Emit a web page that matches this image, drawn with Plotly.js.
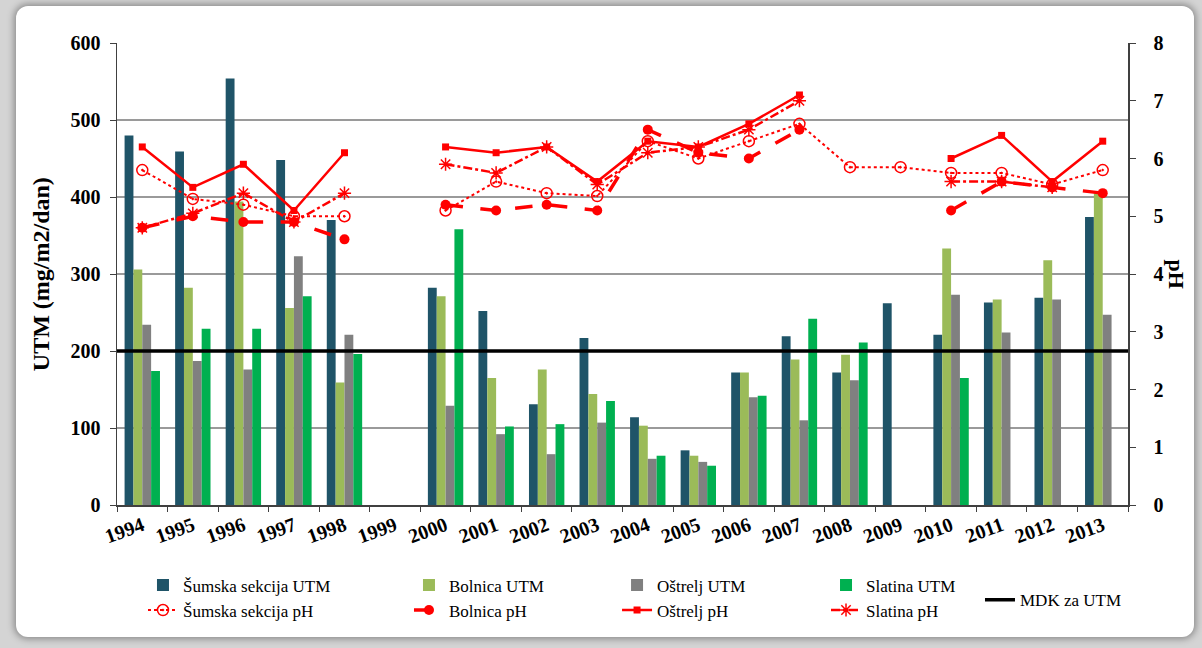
<!DOCTYPE html>
<html>
<head>
<meta charset="utf-8">
<script src="https://cdn.plot.ly/plotly-3.0.1.min.js"></script>
<style>
html,body{margin:0;padding:0;width:1202px;height:648px;overflow:hidden;background:#d4d4d4;}
#panel{position:absolute;left:16px;top:6px;width:1178px;height:631px;background:#fff;border-radius:12px;box-shadow:0 0 7px 2px rgba(0,0,0,0.35);}
#chart{position:absolute;left:0;top:0;width:1202px;height:648px;}
</style>
</head>
<body>
<div id="panel"></div>
<div id="chart"></div>
<script>
const years = ['1994','1995','1996','1997','1998','1999','2000','2001','2002','2003','2004','2005','2006','2007','2008','2009','2010','2011','2012','2013'];

const sumskaUTM  = [480,459,554,448,370,null,282,252,131,217,114,71,172,219,172,262,221,263,269,374];
const bolnicaUTM = [306,282,394,256,159,null,271,165,176,144,103,64,172,189,195,null,333,267,318,405];
const ostreljUTM = [234,187,176,323,221,null,129,92,66,107,60,56,140,110,162,null,273,224,267,247];
const slatinaUTM = [174,229,229,271,196,null,358,102,105,135,64,51,142,242,211,null,165,null,null,null];

const sumskaPH  = [5.8,5.3,5.2,5.0,5.0,null,5.1,5.6,5.4,5.35,6.3,6.0,6.3,6.6,5.85,5.85,5.75,5.75,5.55,5.8];
const bolnicaPH = [4.8,5.0,4.9,4.9,4.6,null,5.2,5.1,5.2,5.1,6.5,6.1,6.0,6.5,null,null,5.1,5.6,5.5,5.4];
const ostreljPH = [6.2,5.5,5.9,5.1,6.1,null,6.2,6.1,6.2,5.6,6.3,6.2,6.6,7.1,null,null,6.0,6.4,5.6,6.3];
const slatinaPH = [4.8,5.05,5.4,4.9,5.4,null,5.9,5.75,6.2,5.55,6.1,6.2,6.5,7.0,null,null,5.6,5.6,5.5,null];

const mdkUTM = 200;

const yTicksLeft = [0,100,200,300,400,500,600];
const yTicksRight = [0,1,2,3,4,5,6,7,8];

const names = {
  sUTM:'Šumska sekcija UTM', bUTM:'Bolnica UTM', oUTM:'Oštrelj UTM', slUTM:'Slatina UTM',
  sPH:'Šumska sekcija pH', bPH:'Bolnica pH', oPH:'Oštrelj pH', slPH:'Slatina pH',
  mdk:'MDK za UTM', yLeft:'UTM (mg/m2/dan)', yRight:'pH'
};

const RED = '#ff0000';
const serif = 'Liberation Serif, Times New Roman, serif';

const bar = (y, name, color, legend) => ({
  type:'bar', x:years, y:y, name:name, marker:{color:color}, legend:legend, hoverinfo:'x+y+name'
});

const traces = [
  bar(sumskaUTM, names.sUTM, '#1f5468', 'legend'),
  bar(bolnicaUTM, names.bUTM, '#9bbb59', 'legend2'),
  bar(ostreljUTM, names.oUTM, '#808080', 'legend3'),
  bar(slatinaUTM, names.slUTM, '#00b050', 'legend4'),
  {type:'scatter', mode:'lines+markers', x:years, y:sumskaPH, yaxis:'y2', name:names.sPH, legend:'legend',
   line:{color:RED, width:2, dash:'dot'}, marker:{symbol:'circle-open-dot', size:11, color:RED, line:{width:1.5, color:RED}}},
  {type:'scatter', mode:'lines+markers', x:years, y:bolnicaPH, yaxis:'y2', name:names.bPH, legend:'legend2',
   line:{color:RED, width:3.5, dash:'longdash'}, marker:{symbol:'circle', size:10, color:RED}},
  {type:'scatter', mode:'lines+markers', x:years, y:ostreljPH, yaxis:'y2', name:names.oPH, legend:'legend3',
   line:{color:RED, width:2.5}, marker:{symbol:'square', size:7, color:RED}},
  {type:'scatter', mode:'lines+markers', x:years, y:slatinaPH, yaxis:'y2', name:names.slPH, legend:'legend4',
   line:{color:RED, width:2.5, dash:'dashdot'}, marker:{symbol:'asterisk-open', size:11, color:RED, line:{width:1.5, color:RED}}}
];

const legendBase = (x) => ({
  x:x, y:-0.135, xanchor:'left', yanchor:'top', orientation:'v',
  bgcolor:'rgba(0,0,0,0)', font:{family:serif, size:17, color:'#000'},
  itemwidth:30, traceorder:'normal', tracegroupgap:0
});

const layout = {
  width:1202, height:648,
  margin:{l:117, r:74, t:43, b:143},
  paper_bgcolor:'rgba(0,0,0,0)', plot_bgcolor:'rgba(0,0,0,0)',
  barmode:'group', bargap:0.3, bargroupgap:0,
  font:{family:serif, color:'#000'},
  xaxis:{type:'category', range:[-0.5,19.5], autorange:false, showline:true, linecolor:'#404040', linewidth:1.5,
    ticks:'outside', ticklen:5, tickcolor:'#404040', tickson:'boundaries',
    tickangle:-20, tickfont:{family:serif, size:20, weight:'bold', color:'#000'}, showgrid:false},
  yaxis:{range:[0,600], tickvals:yTicksLeft, showline:true, linecolor:'#404040', linewidth:1.5,
    ticks:'outside', ticklen:6, tickcolor:'#404040', ticklabelstandoff:5,
    tickfont:{family:serif, size:20, weight:'bold', color:'#000'},
    showgrid:true, gridcolor:'#9a9a9a', gridwidth:1.2, zeroline:false},
  yaxis2:{range:[0,8], tickvals:yTicksRight, overlaying:'y', side:'right', showline:true,
    linecolor:'#404040', linewidth:1.5, ticks:'outside', ticklen:6, tickcolor:'#404040', ticklabelstandoff:14,
    tickfont:{family:serif, size:20, weight:'bold', color:'#000'}, showgrid:false, zeroline:false},
  shapes:[{type:'line', xref:'paper', x0:0, x1:1, yref:'y', y0:mdkUTM, y1:mdkUTM,
    line:{color:'#000', width:3.5}, layer:'above', showlegend:true, legend:'legend5', name:names.mdk}],
  legend: legendBase(0.0257),
  legend2: legendBase(0.2888),
  legend3: legendBase(0.4946),
  legend4: legendBase(0.7013),
  legend5: Object.assign(legendBase(0.8536), {y:-0.206, yanchor:'middle'}),
  annotations:[
    {text:names.yLeft, xref:'paper', yref:'paper', x:-0.075, y:0.5, textangle:-90, showarrow:false,
     xanchor:'center', yanchor:'middle', font:{family:serif, size:24, weight:'bold', color:'#000'}},
    {text:names.yRight, xref:'paper', yref:'paper', x:1.048, y:0.5, textangle:90, showarrow:false,
     xanchor:'center', yanchor:'middle', font:{family:serif, size:22, weight:'bold', color:'#000'}}
  ]
};

Plotly.newPlot('chart', traces, layout, {staticPlot:true, displayModeBar:false});
</script>
</body>
</html>
